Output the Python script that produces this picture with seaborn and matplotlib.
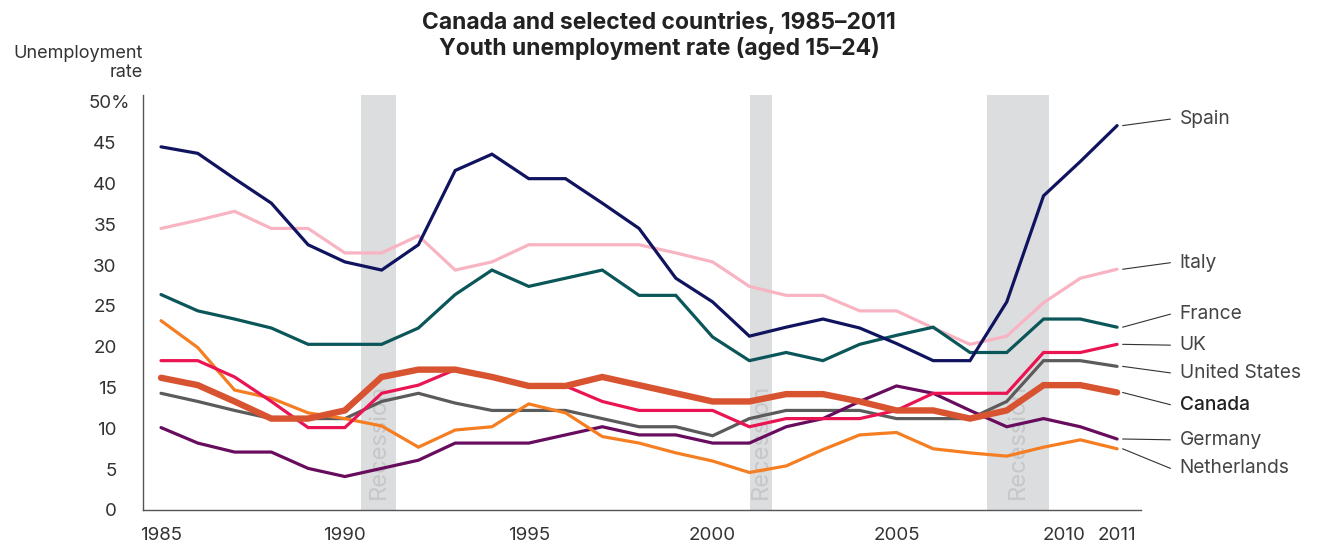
import numpy as np
import pandas as pd
import matplotlib
matplotlib.use("Agg")
import matplotlib.pyplot as plt
import matplotlib.transforms as mtransforms
import seaborn as sns

# ---- data ----
years = list(range(1985, 2012))

spain = [44.5, 43.7, 40.6, 37.6, 32.5, 30.4, 29.4, 32.5, 41.6, 43.6, 40.6, 40.6, 37.6, 34.5,
         28.4, 25.5, 21.3, 22.4, 23.4, 22.3, 20.4, 18.3, 18.3, 25.5, 38.5, 42.7, 47.1]
italy = [34.5, 35.5, 36.6, 34.5, 34.5, 31.5, 31.5, 33.6, 29.4, 30.4, 32.5, 32.5, 32.5, 32.5,
         31.5, 30.4, 27.4, 26.3, 26.3, 24.4, 24.4, 22.3, 20.3, 21.3, 25.4, 28.4, 29.5]
france = [26.4, 24.4, 23.4, 22.3, 20.3, 20.3, 20.3, 22.3, 26.4, 29.4, 27.4, 28.4, 29.4, 26.3,
          26.3, 21.2, 18.3, 19.3, 18.3, 20.3, 21.4, 22.4, 19.3, 19.3, 23.4, 23.4, 22.4]
uk = [18.3, 18.3, 16.3, 13.3, 10.1, 10.1, 14.3, 15.3, 17.2, 16.3, 15.2, 15.2, 13.3, 12.2,
      12.2, 12.2, 10.2, 11.2, 11.2, 11.2, 12.2, 14.3, 14.3, 14.3, 19.3, 19.3, 20.3]
us = [14.3, 13.3, 12.2, 11.2, 11.2, 11.2, 13.3, 14.3, 13.1, 12.2, 12.2, 12.2, 11.2, 10.2,
      10.2, 9.1, 11.2, 12.2, 12.2, 12.2, 11.2, 11.2, 11.2, 13.3, 18.3, 18.3, 17.6]
canada = [16.2, 15.3, 13.3, 11.2, 11.2, 12.2, 16.3, 17.2, 17.2, 16.3, 15.2, 15.2, 16.3, 15.3,
          14.3, 13.3, 13.3, 14.2, 14.2, 13.3, 12.2, 12.2, 11.2, 12.2, 15.3, 15.3, 14.4]
germany = [10.1, 8.2, 7.1, 7.1, 5.1, 4.1, 5.1, 6.1, 8.2, 8.2, 8.2, 9.2, 10.2, 9.2,
           9.2, 8.2, 8.2, 10.2, 11.2, 13.3, 15.2, 14.3, 12.2, 10.2, 11.2, 10.2, 8.7]
netherlands = [23.2, 19.9, 14.7, 13.7, 11.9, 11.2, 10.3, 7.7, 9.8, 10.2, 13.0, 11.9, 9.0, 8.2,
               7.0, 6.0, 4.6, 5.4, 7.4, 9.2, 9.5, 7.5, 7.0, 6.6, 7.7, 8.6, 7.5]

# drawing order (last on top)
countries = ["Italy", "France", "Spain", "United States", "Germany", "Netherlands", "UK", "Canada"]
series = {"Spain": spain, "Italy": italy, "France": france, "UK": uk,
          "United States": us, "Canada": canada, "Germany": germany, "Netherlands": netherlands}
colors = {"Spain": "#10145f", "Italy": "#f8b4c2", "France": "#0a5659", "UK": "#ea1453",
          "United States": "#5b5b5b", "Canada": "#d8532f", "Germany": "#680c5e",
          "Netherlands": "#f57e22"}
label_y = {"Spain": 47.9, "Italy": 30.3, "France": 24.0, "UK": 20.2,
           "United States": 16.8, "Canada": 12.9, "Germany": 8.6, "Netherlands": 5.1}

recessions = [(1990.45, 1991.4), (2001.02, 2001.62), (2007.46, 2009.15)]

df = pd.DataFrame({"year": np.tile(years, len(countries)),
                   "country": np.repeat(countries, len(years)),
                   "rate": np.concatenate([series[c] for c in countries])})

sns.set_style("white")
plt.rcParams["font.family"] = ["Inter", "DejaVu Sans"]

fig = plt.figure(figsize=(13.24, 5.44), dpi=100)
ax = fig.add_axes([0.108, 0.0625, 0.7535, 0.763])

# recession bands + labels
for x0, x1 in recessions:
    ax.axvspan(x0, x1, color="#dcdddf", lw=0, zorder=0)
    ax.text((x0 + x1) / 2, 1.3, "Recession", rotation=90, ha="center", va="bottom",
            fontsize=17, color="#c6c7c9", zorder=1)

for c in countries:
    sub = df[df["country"] == c]
    sns.lineplot(data=sub, x="year", y="rate", ax=ax, color=colors[c],
                 linewidth=4.6 if c == "Canada" else 2.3, zorder=3,
                 solid_joinstyle="miter", solid_capstyle="round")

# end labels with leader lines
for c in countries:
    last = series[c][-1]
    ax.plot([2011.15, 2012.45], [last, label_y[c]], color="#333333", lw=0.8,
            clip_on=False, zorder=2)
    ax.text(2012.7, label_y[c], c, ha="left", va="center", fontsize=13.8,
            color="#222222" if c == "Canada" else "#444444",
            fontweight="medium" if c == "Canada" else "normal", clip_on=False)

ax.set_xlim(1984.51, 2011.64)
ax.set_ylim(0, 50.86)
ax.set_xticks([1985, 1990, 1995, 2000, 2005, 2010, 2011])
ax.set_xticklabels(["1985", "1990", "1995", "2000", "2005", "2010", "2011"])
ax.set_yticks(range(0, 51, 5))
ax.set_yticklabels([str(v) for v in range(0, 50, 5)] + ["50%"])
ax.tick_params(axis="both", length=0, labelsize=13.5, labelcolor="#333333")
ax.tick_params(axis="y", pad=19)
ax.tick_params(axis="x", pad=12)
# let the % sign hang past the other labels
lbl = ax.get_yticklabels()[-1]
lbl.set_transform(lbl.get_transform() + mtransforms.ScaledTranslation(0.13, 0, fig.dpi_scale_trans))
# nudge 2010 left so it doesn't run into 2011
lbl = ax.get_xticklabels()[-2]
lbl.set_transform(lbl.get_transform() + mtransforms.ScaledTranslation(-0.16, 0, fig.dpi_scale_trans))
ax.set_xlabel("")
ax.set_ylabel("")
for s in ["top", "right"]:
    ax.spines[s].set_visible(False)
for s in ["left", "bottom"]:
    ax.spines[s].set_color("#555555")
    ax.spines[s].set_linewidth(1.0)

fig.text(0.108, 0.884, "Unemployment\nrate", ha="right", va="center", fontsize=13,
         color="#333333", linespacing=1.1, multialignment="right")
fig.text(0.498, 0.935, "Canada and selected countries, 1985\u20132011\nYouth unemployment rate (aged 15\u201324)",
         ha="center", va="center", fontsize=16.5, fontweight="bold", color="#222222",
         linespacing=1.2)

fig.savefig("out.png", dpi=100)
